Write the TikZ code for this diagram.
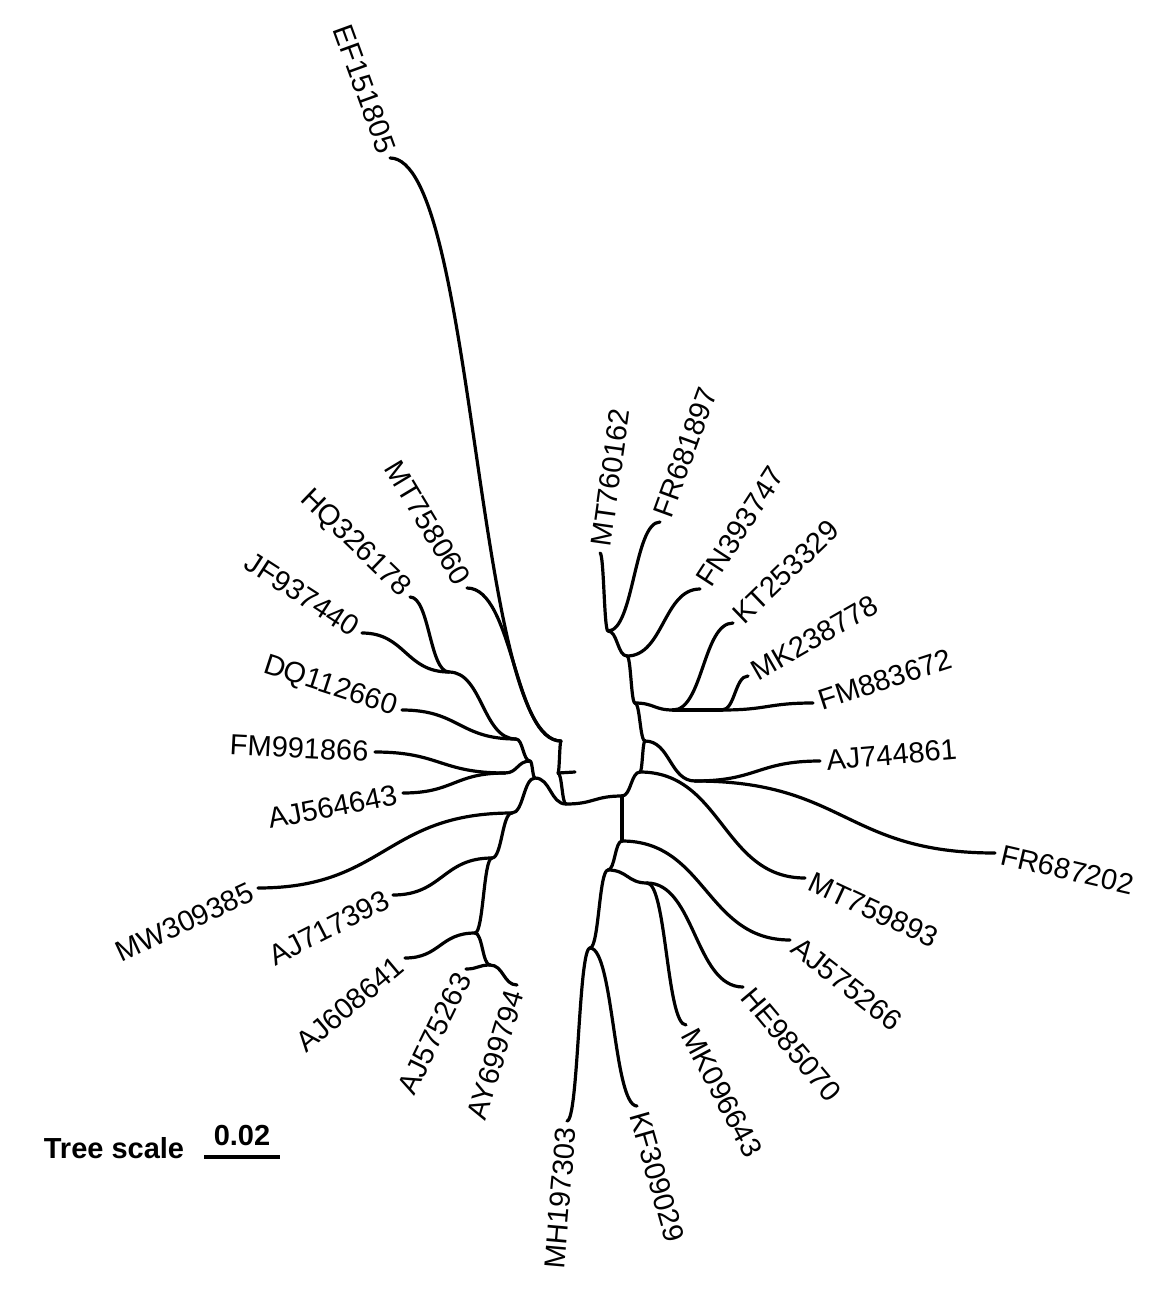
\documentclass[tikz,border=0pt]{standalone}
\usepackage{fontspec}
\setmainfont{Liberation Sans}
\usetikzlibrary{calc}

\tikzset{
  branch/.style={to path={let \p1=(\tikztostart), \p2=(\tikztotarget) in
      .. controls ({(\x1+\x2)/2},\y1) and ({(\x1+\x2)/2},\y2) .. (\tikztotarget)}},
  leaf/.style={font=\fontsize{29}{30}\selectfont, inner sep=5pt},
  lleaf/.style={leaf, anchor=east},
  rleaf/.style={leaf, anchor=west},
  scaletext/.style={font=\fontsize{29}{30}\selectfont\bfseries, inner sep=0pt},
}

\begin{document}
\begin{tikzpicture}[x=1pt,y=-1pt,line width=3.2pt,line cap=round,line join=round]
      \useasboundingbox (0,0) rectangle (1152,1290);

      % inner nodes
      \path
      (566,804) coordinate(a)
      (558,773) coordinate(n6)
      (561,741) coordinate(n5)
      (575,772) coordinate(tick)
      (535,778) coordinate(c)
      (530,761) coordinate(n3)
      (516,739) coordinate(n2)
      (505,773) coordinate(n4)
      (449,672) coordinate(n1)
      (512,813) coordinate(d)
      (492,858) coordinate(e)
      (475,933) coordinate(f)
      (490,965) coordinate(g)
      (622,796) coordinate(b)
      (640,772) coordinate(r1)
      (645,741) coordinate(r2)
      (695,781) coordinate(r3)
      (635,703) coordinate(r4)
      (673,710) coordinate(r5)
      (722,710) coordinate(r6)
      (627,656) coordinate(r7)
      (608,631) coordinate(r8)
      (622,841) coordinate(b2)
      (608,870) coordinate(b3)
      (647,883) coordinate(b4)
      (590,948) coordinate(b5)
      ;

      % tips
      \path
      (390,158) coordinate(EF151805)
      (467,588) coordinate(MT758060)
      (410,597) coordinate(HQ326178)
      (362,633) coordinate(JF937440)
      (402,710) coordinate(DQ112660)
      (375,752) coordinate(FM991866)
      (403,793) coordinate(AJ564643)
      (258,888) coordinate(MW309385)
      (393,895) coordinate(AJ717393)
      (405,958) coordinate(AJ608641)
      (466,969) coordinate(AJ575263)
      (517,985) coordinate(AY699794)
      (567,1121) coordinate(MH197303)
      (637,1106) coordinate(KF309029)
      (686,1025) coordinate(MK096643)
      (743,987) coordinate(HE985070)
      (790,940) coordinate(AJ575266)
      (805,878) coordinate(MT759893)
      (995,853) coordinate(FR687202)
      (820,761) coordinate(AJ744861)
      (813,703) coordinate(FM883672)
      (748,676) coordinate(MK238778)
      (733,623) coordinate(KT253329)
      (700,589) coordinate(FN393747)
      (660,522) coordinate(FR681897)
      (600,553) coordinate(MT760162)
      ;

      % center
      \draw (a) to[branch] (n6);
      \draw (n6) to[branch] (n5);
      \draw (n6) to[branch] (tick);
      \draw (n5) to[branch] (EF151805);
      \draw (n5) to[branch] (MT758060);
      \draw (a) to[branch] (c);
      \draw (a) to[branch] (b);

      % left side
      \draw (c) to[branch] (n3);
      \draw (n3) to[branch] (n2);
      \draw (n3) to[branch] (n4);
      \draw (n4) to[branch] (FM991866);
      \draw (n4) to[branch] (AJ564643);
      \draw (n2) to[branch] (n1);
      \draw (n2) to[branch] (DQ112660);
      \draw (n1) to[branch] (JF937440);
      \draw (n1) to[branch] (HQ326178);
      \draw (c) to[branch] (d);
      \draw (d) to[branch] (MW309385);
      \draw (d) to[branch] (e);
      \draw (e) to[branch] (AJ717393);
      \draw (e) to[branch] (f);
      \draw (f) to[branch] (AJ608641);
      \draw (f) to[branch] (g);
      \draw (g) to[branch] (AJ575263);
      \draw (g) to[branch] (AY699794);

      % right side
      \draw (b) to[branch] (r1);
      \draw (r1) to[branch] (r2);
      \draw (r1) to[branch] (MT759893);
      \draw (r2) to[branch] (r3);
      \draw (r3) to[branch] (AJ744861);
      \draw (r3) to[branch] (FR687202);
      \draw (r2) to[branch] (r4);
      \draw (r4) to[branch] (r5);
      \draw (r5) to[branch] (KT253329);
      \draw (r5) to[branch] (r6);
      \draw (r6) to[branch] (MK238778);
      \draw (r6) to[branch] (FM883672);
      \draw (r4) to[branch] (r7);
      \draw (r7) to[branch] (FN393747);
      \draw (r7) to[branch] (r8);
      \draw (r8) to[branch] (MT760162);
      \draw (r8) to[branch] (FR681897);

      % bottom
      \draw (b) to[branch] (b2);
      \draw (b2) to[branch] (AJ575266);
      \draw (b2) to[branch] (b3);
      \draw (b3) to[branch] (b4);
      \draw (b4) to[branch] (HE985070);
      \draw (b4) to[branch] (MK096643);
      \draw (b3) to[branch] (b5);
      \draw (b5) to[branch] (MH197303);
      \draw (b5) to[branch] (KF309029);

      % labels
      \node[rleaf,rotate=82] (lMT760162) at (MT760162) {MT760162};
      \node[rleaf,rotate=70] (lFR681897) at (FR681897) {FR681897};
      \node[rleaf,rotate=57] (lFN393747) at (FN393747) {FN393747};
      \node[rleaf,rotate=44] (lKT253329) at (KT253329) {KT253329};
      \node[rleaf,rotate=30] (lMK238778) at (MK238778) {MK238778};
      \node[rleaf,rotate=18] (lFM883672) at (FM883672) {FM883672};
      \node[rleaf,rotate=5] (lAJ744861) at (AJ744861) {AJ744861};
      \node[rleaf,rotate=-13] (lFR687202) at (FR687202) {FR687202};
      \node[rleaf,rotate=-25] (lMT759893) at (MT759893) {MT759893};
      \node[rleaf,rotate=-38] (lAJ575266) at (AJ575266) {AJ575266};
      \node[rleaf,rotate=-50] (lHE985070) at (HE985070) {HE985070};
      \node[rleaf,rotate=-62] (lMK096643) at (MK096643) {MK096643};
      \node[rleaf,rotate=-74] (lKF309029) at (KF309029) {KF309029};
      \node[lleaf,rotate=85] (lMH197303) at (MH197303) {MH197303};
      \node[lleaf,rotate=73] (lAY699794) at (AY699794) {AY699794};
      \node[lleaf,rotate=64] (lAJ575263) at (AJ575263) {AJ575263};
      \node[lleaf,rotate=40] (lAJ608641) at (AJ608641) {AJ608641};
      \node[lleaf,rotate=27] (lAJ717393) at (AJ717393) {AJ717393};
      \node[lleaf,rotate=25] (lMW309385) at (MW309385) {MW309385};
      \node[lleaf,rotate=11] (lAJ564643) at (AJ564643) {AJ564643};
      \node[lleaf,rotate=-3] (lFM991866) at (FM991866) {FM991866};
      \node[lleaf,rotate=-18] (lDQ112660) at (DQ112660) {DQ112660};
      \node[lleaf,rotate=-33] (lJF937440) at (JF937440) {JF937440};
      \node[lleaf,rotate=-44] (lHQ326178) at (HQ326178) {HQ326178};
      \node[lleaf,rotate=-59] (lMT758060) at (MT758060) {MT758060};
      \node[lleaf,rotate=-70] (lEF151805) at (EF151805) {EF151805};

      % scale
      \path
      (204,1157) coordinate(sbl)
      (280,1157) coordinate(sbr)
      ;
      \draw[line width=4.5pt,line cap=butt] (sbl) -- (sbr);
      \node[scaletext] (tscale) at (114,1148) {Tree scale};
      \node[scaletext] (tval) at (242,1136) {0.02};
    \end{tikzpicture}
\end{document}
